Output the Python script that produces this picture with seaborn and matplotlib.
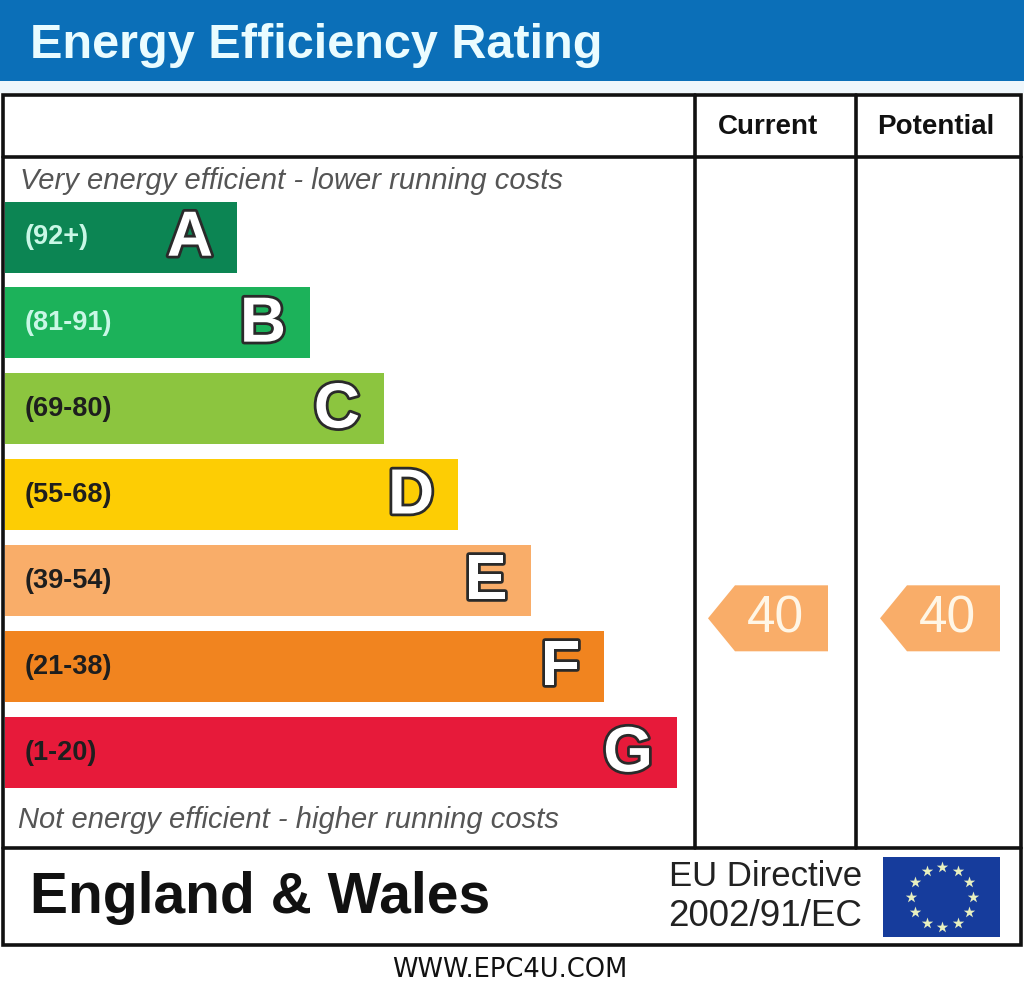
import matplotlib
matplotlib.use("Agg")
import matplotlib.pyplot as plt
import matplotlib.patheffects as pe
from matplotlib.patches import Rectangle, Polygon
import numpy as np
import pandas as pd
import seaborn as sns

# ---------------- data ----------------
bands = ["A", "B", "C", "D", "E", "F", "G"]
ranges = ["(92+)", "(81-91)", "(69-80)", "(55-68)", "(39-54)", "(21-38)", "(1-20)"]
band_lo = [92, 81, 69, 55, 39, 21, 1]
band_hi = [100, 91, 80, 68, 54, 38, 20]
bar_length = [232, 305, 379, 453, 526, 599, 672]
band_colors = ["#0c8553", "#1cb25a", "#8cc53f", "#fdcd04", "#f9ad69", "#f1841f", "#e71a3a"]
range_text_colors = ["#c9f7e6", "#c9f7e6", "#1e1e1e", "#1e1e1e", "#1e1e1e", "#1e1e1e", "#1e1e1e"]
current_rating = 40
potential_rating = 40
arrow_color = "#f9ad69"

W, H = 1024, 994
FONT = "Liberation Sans"

sns.set_theme(style="white")
plt.rcParams["font.family"] = [FONT, "DejaVu Sans"]

fig = plt.figure(figsize=(W / 100, H / 100), dpi=100)
fig.patch.set_facecolor("white")

# background axes in pixel coordinates for the frame
bg = fig.add_axes([0, 0, 1, 1])
bg.set_xlim(0, W)
bg.set_ylim(H, 0)
bg.axis("off")

# header band
bg.add_patch(Rectangle((0, 0), W, 81, facecolor="#0b6fb8", edgecolor="none"))
bg.add_patch(Rectangle((0, 81), W, 12, facecolor="#eef6fb", edgecolor="none"))
bg.text(30, 45, "Energy Efficiency Rating", fontsize=35, fontweight="bold",
        color="#eafcff", ha="left", va="center", family=FONT)

# box & grid lines
lw = 2.6
bg.add_patch(Rectangle((3, 95), 1018, 850, facecolor="none", edgecolor="#111111", lw=lw))
bg.plot([3, 1021], [157, 157], color="#111111", lw=lw)
bg.plot([3, 1021], [848, 848], color="#111111", lw=lw)
bg.plot([695, 695], [95, 848], color="#111111", lw=lw)
bg.plot([856, 856], [95, 848], color="#111111", lw=lw)

bg.text(768, 127, "Current", fontsize=20, fontweight="bold", color="#111111",
        ha="center", va="center", family=FONT)
bg.text(936, 127, "Potential", fontsize=20, fontweight="bold", color="#111111",
        ha="center", va="center", family=FONT)

bg.text(20, 181, "Very energy efficient - lower running costs", fontsize=21,
        style="italic", color="#555555", ha="left", va="center", family=FONT)
bg.text(18, 820, "Not energy efficient - higher running costs", fontsize=21,
        style="italic", color="#555555", ha="left", va="center", family=FONT)

# footer
bg.text(30, 898, "England & Wales", fontsize=41, fontweight="bold", color="#111111",
        ha="left", va="center", family=FONT)
bg.text(862, 876, "EU Directive", fontsize=25, color="#222222", ha="right",
        va="center", family=FONT)
bg.text(862, 916, "2002/91/EC", fontsize=26.5, color="#222222", ha="right",
        va="center", family=FONT)
bg.add_patch(Rectangle((883, 857), 117, 80, facecolor="#163c9c", edgecolor="none"))
ang = np.linspace(0, 2 * np.pi, 13)[:-1]
bg.scatter(942 + 31 * np.cos(ang), 897 + 30 * np.sin(ang), s=75, marker="*",
           color="#e8f0c0", zorder=5, linewidths=0)
bg.text(510, 970, "WWW.EPC4U.COM", fontsize=18.5, color="#111111", ha="center",
        va="center", family="DejaVu Sans")

# ---------------- bars (seaborn) ----------------
x0, x1 = 5, 1021
pitch = 85.93
y_top = 237 - pitch / 2
y_bot = y_top + 7 * pitch
ax = fig.add_axes([x0 / W, 1 - y_bot / H, (x1 - x0) / W, (y_bot - y_top) / H])
ax.patch.set_alpha(0)

df = pd.DataFrame({"band": bands, "length": bar_length})
sns.barplot(data=df, x="length", y="band", hue="band", palette=band_colors,
            orient="h", width=71 / pitch, legend=False, ax=ax, saturation=1,
            edgecolor="none")
ax.set_xlim(0, x1 - x0)
ax.set_ylim(6.5, -0.5)
ax.axis("off")

for i, (b, r, L) in enumerate(zip(bands, ranges, bar_length)):
    ax.text(20, i, r, fontsize=19.5, fontweight="bold", color=range_text_colors[i],
            ha="left", va="center", family=FONT)
    t = ax.text(L - 24, i + 0.02, b, fontsize=46, fontweight="bold", color="white",
                ha="right", va="center", family=FONT)
    t.set_path_effects([pe.Stroke(linewidth=4, foreground="#2a2a2a"), pe.Normal()])


def rating_pos(v):
    for i, (lo, hi) in enumerate(zip(band_lo, band_hi)):
        if lo <= v <= hi:
            return i + (hi - v) / (hi - lo + 1) * 0.5
    return 6


def draw_arrow(v, tip_x, notch_x, right_x):
    yc = rating_pos(v)
    h = 33 / pitch
    poly = Polygon([(tip_x, yc), (notch_x, yc - h), (right_x, yc - h),
                    (right_x, yc + h), (notch_x, yc + h)], closed=True,
                   facecolor=arrow_color, edgecolor="none")
    ax.add_patch(poly)
    ax.text((notch_x + right_x) / 2 - 6, yc + 0.01, str(v), fontsize=37,
            color="#fff6e6", ha="center", va="center", family=FONT)


draw_arrow(current_rating, 708 - x0, 735 - x0, 828 - x0)
draw_arrow(potential_rating, 880 - x0, 907 - x0, 1000 - x0)

fig.savefig("out.png", dpi=100, facecolor="white")
